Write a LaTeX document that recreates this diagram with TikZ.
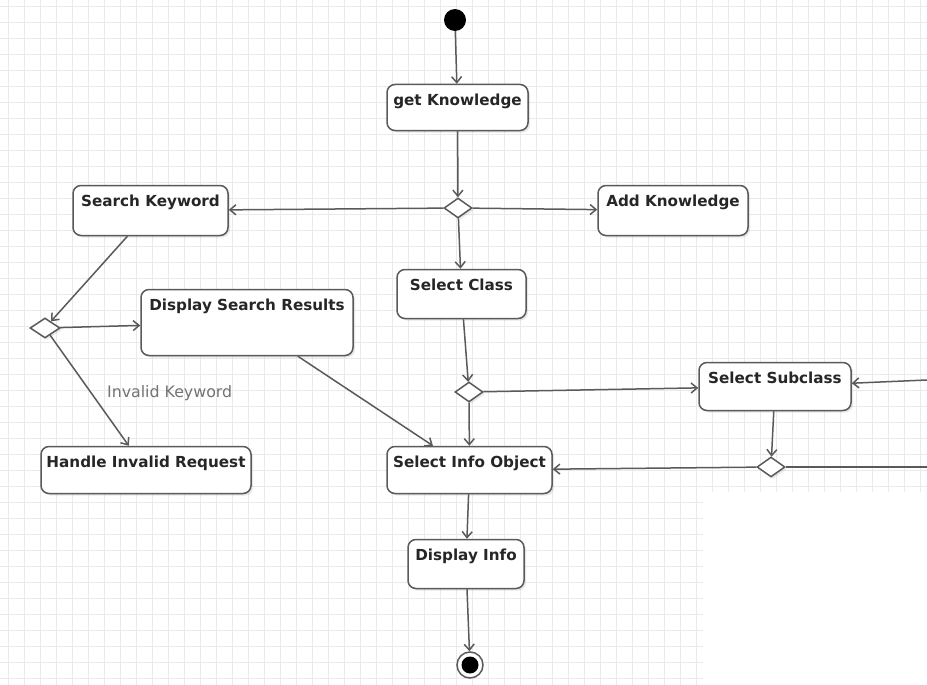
\documentclass[tikz,border=0pt]{standalone}
\usepackage{fontspec}
\setsansfont{DejaVu Sans}
\usepackage{tikz}
\usetikzlibrary{arrows.meta,shapes.geometric,shadows}
\definecolor{Edge}{RGB}{90,90,90}
\definecolor{Grid}{RGB}{234,234,234}

\begin{document}
\begin{tikzpicture}[x=1pt,y=-1pt,
  act/.style={draw=Edge,line width=1.5pt,fill=white,rounded corners=8pt,
    font=\sffamily\bfseries\fontsize{15.2}{17}\selectfont,text=black!85,
    inner xsep=3pt,inner ysep=4pt,text height=17pt,text depth=#1,
    drop shadow={opacity=0.18,shadow xshift=2pt,shadow yshift=-2pt}},
  act/.default=21pt,
  choice/.style={diamond,draw=Edge,line width=1.5pt,fill=white,aspect=1.4,
    minimum width=28pt,minimum height=20pt,inner sep=0pt,
    drop shadow={opacity=0.18,shadow xshift=2pt,shadow yshift=-2pt}},
  flow/.style={draw=Edge,line width=1.5pt,-{Straight Barb[length=6pt,width=10pt]}}]
  \useasboundingbox (0,0) rectangle (927,685);
  \fill[white] (0,0) rectangle (927,685);
  \foreach \gx in {8,24,...,927}
    \draw[Grid,line width=0.6pt] (\gx,0) -- (\gx,685);
  \foreach \gy in {6,22,...,685}
    \draw[Grid,line width=0.6pt] (0,\gy) -- (927,\gy);
  \fill[white] (703,492) rectangle (927,685);

  % nodes
  \node[circle,fill=black,minimum size=22pt,inner sep=0pt] (start) at (455,20) {};
  \node[act,minimum width=141pt] (getknow) at (457.5,107.5) {get Knowledge};
  \node[choice] (dknow) at (458,208) {};
  \node[act=25pt,minimum width=155pt] (search) at (150.5,210.5) {Search Keyword};
  \node[act=25pt,minimum width=150pt] (addknow) at (673,210.5) {Add Knowledge};
  \node[act=24pt,minimum width=129pt] (selclass) at (461.5,294) {Select Class};
  \node[choice,minimum width=30pt] (dsearch) at (45,328) {};
  \node[act=41pt,minimum width=212pt] (results) at (247,322.5) {Display Search Results};
  \node[choice] (dclass) at (469,392) {};
  \node[act=23pt,minimum width=152pt] (selsub) at (775,386.5) {Select Subclass};
  \node[act=22pt,minimum width=210pt] (invalid) at (146,470) {Handle Invalid Request};
  \node[act=22pt,minimum width=165pt] (selinfo) at (469.5,470) {Select Info Object};
  \node[choice] (dsub) at (771,467) {};
  \node[act=24pt,minimum width=116pt] (showinfo) at (466,564) {Display Info};
  \node[circle,draw=Edge,line width=1.5pt,fill=white,minimum size=26pt,inner sep=0pt] (stop) at (470,665) {};
  \fill[black] (stop.center) circle (8.5pt);
  \coordinate (subin) at (927,380);
  \coordinate (subout) at (927,467);

  % edges
  \draw[flow] (start) -- (getknow);
  \draw[flow] (getknow) -- (dknow);
  \draw[flow] (dknow) -- (search);
  \draw[flow] (dknow) -- (addknow);
  \draw[flow] (dknow) -- (selclass);
  \draw[flow] (search) -- (dsearch);
  \draw[flow] (dsearch) -- (results);
  \draw[flow] (dsearch) -- (invalid)
    node[pos=0.52,right=12pt,font=\sffamily\fontsize{15.8}{17}\selectfont,text=black!55] {Invalid Keyword};
  \draw[flow] (results) -- (selinfo);
  \draw[flow] (selclass) -- (dclass);
  \draw[flow] (dclass) -- (selsub);
  \draw[flow] (dclass) -- (selinfo);
  \draw[flow] (selsub) -- (dsub);
  \draw[flow] (dsub) -- (selinfo);
  \draw[flow] (subin) -- (selsub);
  \draw[draw=Edge,line width=1.5pt] (dsub) -- (subout);
  \draw[flow] (selinfo) -- (showinfo);
  \draw[flow] (showinfo) -- (stop);
\end{tikzpicture}
\end{document}
